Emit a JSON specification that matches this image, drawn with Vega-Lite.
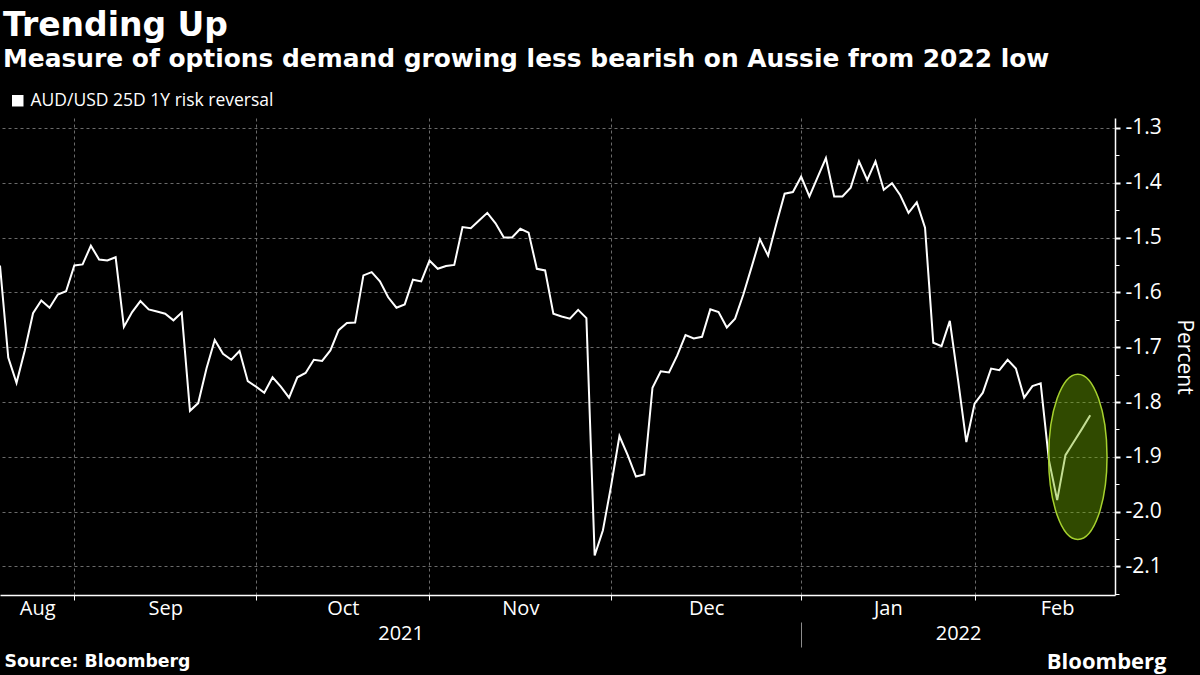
{
  "$schema": "https://vega.github.io/schema/vega-lite/v6.json",
  "width": 1115,
  "height": 477,
  "autosize": {"type": "none"},
  "padding": {"left": 0, "top": 118, "right": 85, "bottom": 80},
  "background": "#000000",
  "title": {
    "text": "Trending Up",
    "subtitle": "Measure of options demand growing less bearish on Aussie from 2022 low",
    "anchor": "start",
    "frame": "group",
    "offset": 20,
    "dx": 3,
    "font": "DejaVu Sans",
    "fontSize": 33,
    "fontWeight": "bold",
    "color": "#ffffff",
    "subtitleFont": "DejaVu Sans",
    "subtitleFontSize": 24.9,
    "subtitleFontWeight": "bold",
    "subtitleColor": "#ffffff",
    "subtitlePadding": 4
  },
  "config": {
    "view": {"stroke": null},
    "axis": {"labelFont": "Open Sans", "titleFont": "Open Sans", "labelColor": "#ffffff", "titleColor": "#ffffff"}
  },
  "layer": [
    {
      "data": {"values": [
        {"i":0,"date":"2021-08-19","v":-1.551},{"i":1,"date":"2021-08-20","v":-1.719},{"i":2,"date":"2021-08-23","v":-1.765},{"i":3,"date":"2021-08-24","v":-1.706},{"i":4,"date":"2021-08-25","v":-1.638},{"i":5,"date":"2021-08-26","v":-1.615},{"i":6,"date":"2021-08-27","v":-1.628},{"i":7,"date":"2021-08-30","v":-1.604},{"i":8,"date":"2021-08-31","v":-1.598},
        {"i":9,"date":"2021-09-01","v":-1.551},{"i":10,"date":"2021-09-02","v":-1.549},{"i":11,"date":"2021-09-03","v":-1.515},{"i":12,"date":"2021-09-06","v":-1.540},{"i":13,"date":"2021-09-07","v":-1.542},{"i":14,"date":"2021-09-08","v":-1.536},{"i":15,"date":"2021-09-09","v":-1.663},{"i":16,"date":"2021-09-10","v":-1.636},{"i":17,"date":"2021-09-13","v":-1.616},{"i":18,"date":"2021-09-14","v":-1.631},{"i":19,"date":"2021-09-15","v":-1.635},{"i":20,"date":"2021-09-16","v":-1.639},{"i":21,"date":"2021-09-17","v":-1.651},{"i":22,"date":"2021-09-20","v":-1.637},{"i":23,"date":"2021-09-21","v":-1.816},{"i":24,"date":"2021-09-22","v":-1.802},{"i":25,"date":"2021-09-23","v":-1.739},{"i":26,"date":"2021-09-24","v":-1.687},{"i":27,"date":"2021-09-27","v":-1.712},{"i":28,"date":"2021-09-28","v":-1.723},{"i":29,"date":"2021-09-29","v":-1.707},{"i":30,"date":"2021-09-30","v":-1.762},
        {"i":31,"date":"2021-10-01","v":-1.772},{"i":32,"date":"2021-10-04","v":-1.783},{"i":33,"date":"2021-10-05","v":-1.755},{"i":34,"date":"2021-10-06","v":-1.772},{"i":35,"date":"2021-10-07","v":-1.792},{"i":36,"date":"2021-10-08","v":-1.755},{"i":37,"date":"2021-10-11","v":-1.747},{"i":38,"date":"2021-10-12","v":-1.723},{"i":39,"date":"2021-10-13","v":-1.725},{"i":40,"date":"2021-10-14","v":-1.706},{"i":41,"date":"2021-10-15","v":-1.669},{"i":42,"date":"2021-10-18","v":-1.656},{"i":43,"date":"2021-10-19","v":-1.655},{"i":44,"date":"2021-10-20","v":-1.569},{"i":45,"date":"2021-10-21","v":-1.563},{"i":46,"date":"2021-10-22","v":-1.580},{"i":47,"date":"2021-10-25","v":-1.609},{"i":48,"date":"2021-10-26","v":-1.628},{"i":49,"date":"2021-10-27","v":-1.622},{"i":50,"date":"2021-10-28","v":-1.577},{"i":51,"date":"2021-10-29","v":-1.580},
        {"i":52,"date":"2021-11-01","v":-1.542},{"i":53,"date":"2021-11-02","v":-1.557},{"i":54,"date":"2021-11-03","v":-1.552},{"i":55,"date":"2021-11-04","v":-1.550},{"i":56,"date":"2021-11-05","v":-1.481},{"i":57,"date":"2021-11-08","v":-1.483},{"i":58,"date":"2021-11-09","v":-1.469},{"i":59,"date":"2021-11-10","v":-1.455},{"i":60,"date":"2021-11-11","v":-1.474},{"i":61,"date":"2021-11-12","v":-1.500},{"i":62,"date":"2021-11-15","v":-1.500},{"i":63,"date":"2021-11-16","v":-1.484},{"i":64,"date":"2021-11-17","v":-1.491},{"i":65,"date":"2021-11-18","v":-1.557},{"i":66,"date":"2021-11-19","v":-1.560},{"i":67,"date":"2021-11-22","v":-1.639},{"i":68,"date":"2021-11-23","v":-1.644},{"i":69,"date":"2021-11-24","v":-1.648},{"i":70,"date":"2021-11-25","v":-1.632},{"i":71,"date":"2021-11-26","v":-1.647},{"i":72,"date":"2021-11-29","v":-2.080},{"i":73,"date":"2021-11-30","v":-2.034},
        {"i":74,"date":"2021-12-01","v":-1.952},{"i":75,"date":"2021-12-02","v":-1.862},{"i":76,"date":"2021-12-03","v":-1.897},{"i":77,"date":"2021-12-06","v":-1.936},{"i":78,"date":"2021-12-07","v":-1.932},{"i":79,"date":"2021-12-08","v":-1.774},{"i":80,"date":"2021-12-09","v":-1.744},{"i":81,"date":"2021-12-10","v":-1.746},{"i":82,"date":"2021-12-13","v":-1.715},{"i":83,"date":"2021-12-14","v":-1.678},{"i":84,"date":"2021-12-15","v":-1.684},{"i":85,"date":"2021-12-16","v":-1.681},{"i":86,"date":"2021-12-17","v":-1.631},{"i":87,"date":"2021-12-20","v":-1.636},{"i":88,"date":"2021-12-21","v":-1.664},{"i":89,"date":"2021-12-22","v":-1.648},{"i":90,"date":"2021-12-23","v":-1.604},{"i":91,"date":"2021-12-24","v":-1.554},{"i":92,"date":"2021-12-27","v":-1.503},{"i":93,"date":"2021-12-28","v":-1.533},{"i":94,"date":"2021-12-29","v":-1.475},{"i":95,"date":"2021-12-30","v":-1.420},{"i":96,"date":"2021-12-31","v":-1.417},
        {"i":97,"date":"2022-01-03","v":-1.389},{"i":98,"date":"2022-01-04","v":-1.425},{"i":99,"date":"2022-01-05","v":-1.390},{"i":100,"date":"2022-01-06","v":-1.355},{"i":101,"date":"2022-01-07","v":-1.425},{"i":102,"date":"2022-01-10","v":-1.425},{"i":103,"date":"2022-01-11","v":-1.409},{"i":104,"date":"2022-01-12","v":-1.361},{"i":105,"date":"2022-01-13","v":-1.395},{"i":106,"date":"2022-01-14","v":-1.361},{"i":107,"date":"2022-01-17","v":-1.413},{"i":108,"date":"2022-01-18","v":-1.401},{"i":109,"date":"2022-01-19","v":-1.423},{"i":110,"date":"2022-01-20","v":-1.455},{"i":111,"date":"2022-01-21","v":-1.436},{"i":112,"date":"2022-01-24","v":-1.482},{"i":113,"date":"2022-01-25","v":-1.692},{"i":114,"date":"2022-01-26","v":-1.698},{"i":115,"date":"2022-01-27","v":-1.652},{"i":116,"date":"2022-01-28","v":-1.760},{"i":117,"date":"2022-01-31","v":-1.873},
        {"i":118,"date":"2022-02-01","v":-1.803},{"i":119,"date":"2022-02-02","v":-1.783},{"i":120,"date":"2022-02-03","v":-1.739},{"i":121,"date":"2022-02-04","v":-1.742},{"i":122,"date":"2022-02-07","v":-1.723},{"i":123,"date":"2022-02-08","v":-1.739},{"i":124,"date":"2022-02-09","v":-1.792},{"i":125,"date":"2022-02-10","v":-1.771},{"i":126,"date":"2022-02-11","v":-1.766},{"i":127,"date":"2022-02-14","v":-1.906},{"i":128,"date":"2022-02-15","v":-1.979},{"i":129,"date":"2022-02-16","v":-1.897},{"i":130,"date":"2022-02-17","v":-1.873},{"i":131,"date":"2022-02-18","v":-1.849},{"i":132,"date":"2022-02-21","v":-1.824}
      ]},
      "mark": {"type": "line", "strokeWidth": 2},
      "encoding": {
        "x": {
          "field": "i", "type": "quantitative",
          "scale": {"domain": [0, 135], "nice": false, "zero": false},
          "axis": {
            "orient": "bottom",
            "values": [9, 31, 52, 74, 97, 118],
            "labels": false,
            "ticks": true, "tickSize": 5, "tickColor": "#ffffff", "tickWidth": 1,
            "domain": true, "domainColor": "#ffffff", "domainWidth": 1.5,
            "grid": true, "gridColor": "#6a6a6a", "gridDash": [3, 3], "gridWidth": 1,
            "title": "Source: Bloomberg",
            "titleX": 4, "titleY": 66, "titleAlign": "left", "titleBaseline": "middle", "titleAngle": 0,
            "titleFont": "DejaVu Sans", "titleFontSize": 17.3, "titleFontWeight": "bold"
          }
        },
        "y": {
          "field": "v", "type": "quantitative",
          "scale": {"domain": [-2.152, -1.282], "nice": false, "zero": false},
          "axis": {
            "orient": "right",
            "values": [-2.1, -2.0, -1.9, -1.8, -1.7, -1.6, -1.5, -1.4, -1.3],
            "format": ".1f",
            "labelExpr": "replace(datum.label, '\u2212', '-')",
            "labelFontSize": 21, "labelPadding": 5,
            "ticks": true, "tickSize": 5, "tickWidth": 2, "tickColor": "#ffffff",
            "domain": true, "domainColor": "#ffffff", "domainWidth": 1.5,
            "grid": true, "gridColor": "#6a6a6a", "gridDash": [3, 3], "gridWidth": 1,
            "title": "Percent", "titleFontSize": 21, "titleFontWeight": "normal", "titleAngle": 90, "titlePadding": 12
          }
        },
        "color": {
          "datum": "AUD/USD 25D 1Y risk reversal",
          "scale": {"range": ["#ffffff"]},
          "legend": {
            "orient": "none", "legendX": 9, "legendY": -26,
            "title": null, "padding": 0,
            "symbolType": "square", "symbolSize": 132, "symbolFillColor": "#ffffff", "symbolStrokeWidth": 0,
            "labelFont": "Open Sans", "labelFontSize": 17.5, "labelColor": "#ffffff", "labelOffset": 4, "labelLimit": 500,
            "encode": {"symbols": {"update": {"fill": {"value": "#ffffff"}, "strokeWidth": {"value": 0}, "shape": {"value": "square"}}}}
          }
        }
      }
    },
    {
      "data": {"values": [{"i": 130.5, "v": -1.9}]},
      "mark": {
        "type": "point",
        "shape": "M -0.353 0 A 0.353 1 0 1 0 0.353 0 A 0.353 1 0 1 0 -0.353 0 Z",
        "size": 27360,
        "filled": true,
        "fill": "#72b000", "fillOpacity": 0.42,
        "stroke": "#a6d12e", "strokeWidth": 1.5, "strokeOpacity": 1,
        "opacity": 1
      },
      "encoding": {
        "x": {
          "field": "i", "type": "quantitative",
          "scale": {"domain": [0, 135], "nice": false, "zero": false},
          "axis": {
            "orient": "bottom",
            "values": [4.5, 20, 41.5, 48.5, 63, 85.5, 97, 107.5, 116, 128],
            "labelExpr": "datum.value == 4.5 ? 'Aug' : datum.value == 20 ? 'Sep' : datum.value == 41.5 ? 'Oct' : datum.value == 48.5 ? ['', '2021'] : datum.value == 63 ? 'Nov' : datum.value == 85.5 ? 'Dec' : datum.value == 107.5 ? 'Jan' : datum.value == 116 ? ['', '2022'] : datum.value == 128 ? 'Feb' : ''",
            "labelOverlap": false, "labelFlush": false, "labelBound": false,
            "labelFontSize": 20, "labelLineHeight": 25, "labelPadding": -49,
            "ticks": true, "tickSize": 52, "tickColor": "#8c8c8c", "tickWidth": 1, "tickDash": [0, 27, 25],
            "tickOpacity": {"condition": {"test": "datum.value == 97", "value": 1}, "value": 0},
            "domain": false, "grid": false,
            "title": "Bloomberg",
            "titleX": 1166, "titleY": 66, "titleAlign": "right", "titleBaseline": "middle", "titleAngle": 0,
            "titleFontSize": 22, "titleFontWeight": "bold"
          }
        },
        "y": {
          "field": "v", "type": "quantitative",
          "scale": {"domain": [-2.152, -1.282], "nice": false, "zero": false},
          "axis": {
            "orient": "right",
            "values": [-2.15, -2.05, -1.95, -1.85, -1.75, -1.65, -1.55, -1.45, -1.35],
            "labels": false, "domain": false, "grid": false,
            "ticks": true, "tickSize": 4, "tickColor": "#ffffff", "tickWidth": 1,
            "title": null
          }
        }
      }
    }
  ],
  "resolve": {"axis": {"x": "independent", "y": "independent"}}
}
